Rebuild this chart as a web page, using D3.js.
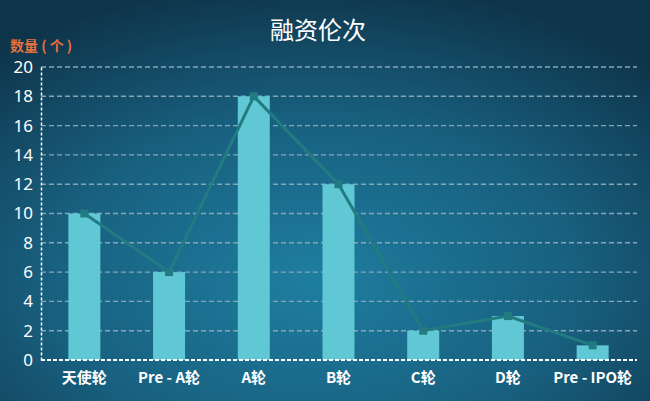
<!DOCTYPE html>
<html>
<head>
<meta charset="utf-8">
<script src="https://cdn.jsdelivr.net/npm/d3@7"></script>
<style>
  html, body { margin: 0; padding: 0; overflow: hidden; }
  svg { display: block; font-family: "Noto Sans CJK SC", "Noto Sans", sans-serif; }
</style>
</head>
<body>
<div id="chart"></div>
<script>
const rounds = ['天使轮', 'Pre - A轮', 'A轮', 'B轮', 'C轮', 'D轮', 'Pre - IPO轮'];
const counts = [10, 6, 18, 12, 2, 3, 1];
const yTicks = [0, 2, 4, 6, 8, 10, 12, 14, 16, 18, 20];

const width = 650;
const height = 401;
const margin = {top: 67, right: 13, bottom: 41, left: 41};

const svg = d3.select('#chart')
    .append('svg')
    .attr('width', width)
    .attr('height', height);

// radial background
const grad = svg.append('defs')
    .append('radialGradient')
    .attr('id', 'bg')
    .attr('cx', '48%').attr('cy', '70%').attr('r', '75%');
grad.append('stop').attr('offset', '0%').attr('stop-color', '#1f7ea0');
grad.append('stop').attr('offset', '55%').attr('stop-color', '#185f7e');
grad.append('stop').attr('offset', '100%').attr('stop-color', '#0e344a');

svg.append('rect')
    .attr('width', width)
    .attr('height', height)
    .attr('fill', 'url(#bg)');

const x = d3.scaleBand()
    .domain(rounds)
    .range([margin.left + 1, width - margin.right - 2])
    .padding(0);

const y = d3.scaleLinear()
    .domain([0, 20])
    .range([height - margin.bottom, margin.top]);

const barW = 32;

// gridlines
svg.append('g')
    .selectAll('line')
    .data(yTicks.filter(d => d > 0))
    .join('line')
        .attr('x1', margin.left)
        .attr('x2', width - margin.right)
        .attr('y1', d => y(d))
        .attr('y2', d => y(d))
        .attr('stroke', '#86a6b6')
        .attr('stroke-width', 1.4)
        .attr('stroke-dasharray', '5,3');

// bars
svg.append('g')
    .attr('fill', '#5fc8d4')
    .selectAll('rect')
    .data(counts)
    .join('rect')
        .attr('x', (d, i) => x(rounds[i]) + x.bandwidth() / 2 - barW / 2)
        .attr('y', d => y(d))
        .attr('width', barW)
        .attr('height', d => y(0) - y(d));

// line + markers
const line = d3.line()
    .x((d, i) => x(rounds[i]) + x.bandwidth() / 2)
    .y(d => y(d));

svg.append('path')
    .datum(counts)
    .attr('fill', 'none')
    .attr('stroke', '#237b82')
    .attr('stroke-width', 3)
    .attr('d', line);

svg.append('g')
    .attr('fill', '#237b82')
    .selectAll('rect')
    .data(counts)
    .join('rect')
        .attr('x', (d, i) => x(rounds[i]) + x.bandwidth() / 2 - 4)
        .attr('y', d => y(d) - 4)
        .attr('width', 8)
        .attr('height', 8);

// axes
function yAxis(g) {
    g.attr('transform', `translate(${margin.left}, 0)`)
        .call(d3.axisLeft(y).tickValues(yTicks).tickSize(0).tickPadding(8))
        .attr('font-size', '17px')
        .attr('font-family', '"Noto Sans", sans-serif');
    g.select('.domain')
        .attr('stroke', '#ffffff')
        .attr('stroke-width', 1.5)
        .attr('stroke-dasharray', '3,2');
    g.selectAll('text').attr('fill', '#ffffff');
}

function xAxis(g) {
    g.attr('transform', `translate(0, ${height - margin.bottom})`)
        .call(d3.axisBottom(x).tickSize(0).tickPadding(10).tickSizeOuter(0))
        .attr('font-size', '15px')
        .attr('font-family', '"Noto Sans CJK SC", sans-serif');
    g.select('.domain')
        .attr('d', `M${margin.left},0H${width - margin.right}`)
        .attr('stroke', '#ffffff')
        .attr('stroke-width', 2)
        .attr('stroke-dasharray', '4,2');
    g.selectAll('text')
        .attr('fill', '#ffffff')
        .attr('font-weight', 'bold')
        .attr('dy', '0.85em');
}

svg.append('g').call(yAxis);
svg.append('g').call(xAxis);

// titles
svg.append('text')
    .attr('x', 318)
    .attr('y', 39)
    .attr('text-anchor', 'middle')
    .attr('fill', '#ffffff')
    .attr('font-size', '24px')
    .text('融资伦次');

svg.append('text')
    .attr('x', 10)
    .attr('y', 51)
    .attr('fill', '#e8703a')
    .attr('font-size', '14px')
    .attr('font-weight', 'bold')
    .text('数量 ( 个 )');
</script>
</body>
</html>
